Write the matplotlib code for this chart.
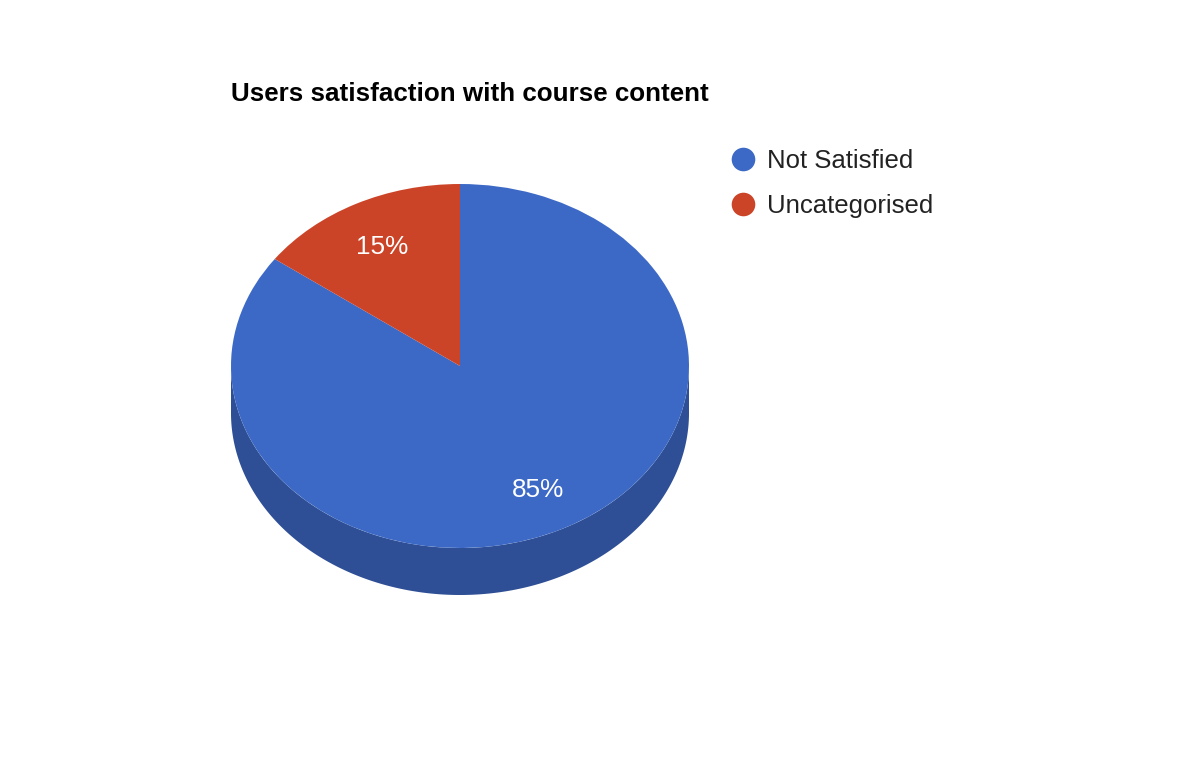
import numpy as np
import matplotlib
matplotlib.use("Agg")
import matplotlib.pyplot as plt
from matplotlib.lines import Line2D

plt.rcParams['font.family'] = ['Liberation Sans', 'DejaVu Sans']

title = "Users satisfaction with course content"
categories = ["Not Satisfied", "Uncategorised"]
values = [85, 15]
colors = ["#3d69c6", "#cc4428"]
side_colors = ["#2e4f95", "#993320"]

W, H = 1200, 776
fig = plt.figure(figsize=(W / 100, H / 100), dpi=100)

# pie geometry in pixels
cx, cy, rx, ry, depth = 460, 366, 229, 182, 47
d = depth / ry
ax = fig.add_axes([(cx - rx) / W, (H - (cy + ry + depth)) / H, 2 * rx / W, (2 * ry + depth) / H])

wedges, texts, autotexts = ax.pie(
    values, colors=colors, startangle=90, counterclock=False, radius=1,
    autopct='%1.0f%%', pctdistance=0.75,
    wedgeprops=dict(linewidth=0, zorder=3),
    textprops=dict(color='white', fontsize=18.8))
for t in autotexts:
    t.set_zorder(5)
    t.set_va('center_baseline')

# side (depth) of the 3D pie
for w, sc in zip(wedges, side_colors):
    th = np.radians(np.linspace(w.theta1, w.theta2, 600))
    mask = np.sin(th) <= 1e-9
    if mask.sum() < 2:
        continue
    th = th[mask]
    xs = np.cos(th)
    ys = np.sin(th)
    px = np.concatenate([xs, xs[::-1]])
    py = np.concatenate([ys, ys[::-1] - d])
    ax.fill(px, py, color=sc, lw=0, zorder=1)

ax.set_aspect('auto')
ax.set_xlim(-1, 1)
ax.set_ylim(-1 - d, 1)
ax.axis('off')

fig.text(231 / W, 1 - 94 / H, title, fontsize=18.7, fontweight='bold', color='black',
         ha='left', va='center')

handles = [Line2D([0], [0], marker='o', linestyle='none', markersize=17,
                  markerfacecolor=c, markeredgewidth=0) for c in colors]
fig.legend(handles, categories, loc='upper left',
           bbox_to_anchor=(730 / W, 1 - 149 / H), frameon=False,
           fontsize=18.5, labelcolor='#222222', handlelength=1.0,
           handletextpad=0.45, labelspacing=0.8, borderpad=0, borderaxespad=0)

fig.savefig("out.png", dpi=100, facecolor='white')
